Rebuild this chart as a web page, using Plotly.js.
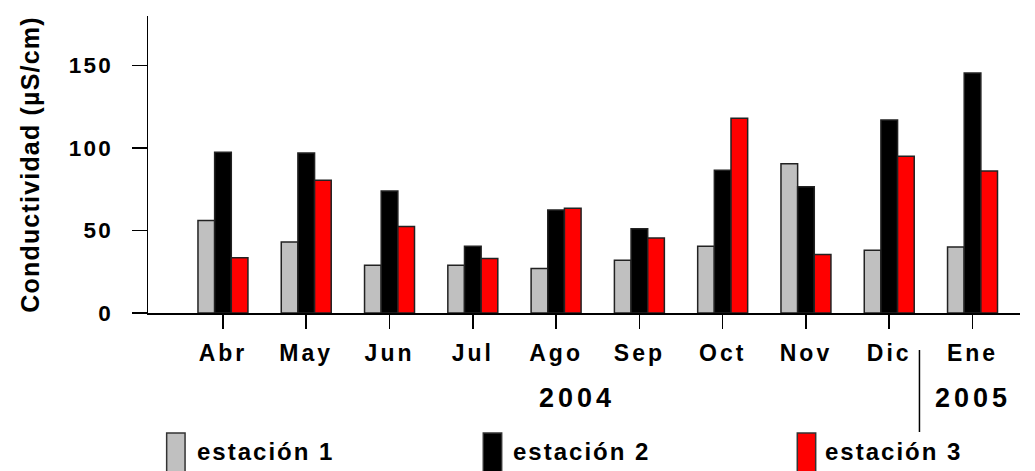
<!DOCTYPE html>
<html>
<head>
<meta charset="utf-8">
<script src="https://cdn.plot.ly/plotly-3.0.1.min.js"></script>
<style>
html,body{margin:0;padding:0;background:#fff;}
#chart{width:1035px;height:471px;}
.js-plotly-plot .xtick text{letter-spacing:3px;}
.js-plotly-plot .ytick text{letter-spacing:2.2px;}
.js-plotly-plot .ytitle{letter-spacing:1.2px;}
.js-plotly-plot .annotation-text{letter-spacing:2px;}
</style>
</head>
<body>
<div id="chart"></div>
<script>
const months = ["Abr","May","Jun","Jul","Ago","Sep","Oct","Nov","Dic","Ene"];
const seriesNames = ["estación 1","estación 2","estación 3"];
const estacion1 = [56, 43, 29, 29, 27, 32, 40.5, 90.5, 38, 40];
const estacion2 = [97.5, 97, 74, 40.5, 62.5, 51, 86.5, 76.5, 117, 145.5];
const estacion3 = [33.5, 80.5, 52.5, 33, 63.5, 45.5, 118, 35.5, 95, 86];
const seriesColors = ["#C0C0C0","#000000","#FF0000"];
const yTicks = [0, 50, 100, 150];
const yearLabels = ["2004","2005"];

const FONT = "Liberation Sans, Arial, sans-serif";
const values = [estacion1, estacion2, estacion3];

const traces = values.map((v, i) => ({
  type: "bar",
  x: months,
  y: v,
  name: seriesNames[i],
  marker: {color: seriesColors[i], line: {color: "#222", width: 1.5}},
  showlegend: false,
  hoverinfo: "x+y+name"
}));

const shapes = [];
const annotations = [];
// custom legend (tall swatches as in the original)
const legSwatchX = [0.0214, 0.3845, 0.7446];
const legTextX = [0.1347, 0.4974, 0.8555];
seriesNames.forEach((n, i) => {
  shapes.push({type:"rect", xref:"paper", yref:"paper",
    x0: legSwatchX[i], x1: legSwatchX[i] + 0.0211, y0: -0.404, y1: -0.56,
    fillcolor: seriesColors[i], line:{color:"#333", width:1.5}});
  annotations.push({xref:"paper", yref:"paper", x: legTextX[i], y: -0.468,
    xanchor:"center", yanchor:"middle", text: n, showarrow:false,
    font:{family:FONT, size:24, weight:700, color:"#000"}});
});
// year labels + separator
annotations.push({xref:"paper", yref:"paper", x:0.4925, y:-0.286, xanchor:"center", yanchor:"middle",
  text: yearLabels[0], showarrow:false, font:{family:FONT, size:27, weight:700, color:"#000"}});
annotations.push({xref:"paper", yref:"paper", x:0.946, y:-0.286, xanchor:"center", yanchor:"middle",
  text: yearLabels[1], showarrow:false, font:{family:FONT, size:27, weight:700, color:"#000"}});
shapes.push({type:"line", xref:"paper", yref:"paper", x0:0.8847, x1:0.8847, y0:-0.1246, y1:-0.4007,
  line:{color:"#000", width:1.5}});

const layout = {
  width: 1035, height: 471,
  margin: {l:148, r:15, t:16, b:158, pad:0},
  paper_bgcolor:"#fff", plot_bgcolor:"#fff",
  barmode:"group", bargap:0.4, bargroupgap:0,
  font:{family:FONT, size:22, weight:700, color:"#000"},
  xaxis:{
    type:"category", range:[-0.9, 9.57],
    showline:true, linecolor:"#000", linewidth:1.5,
    ticks:"outside", ticklen:14, tickwidth:1.5, tickcolor:"#000",
    tickfont:{family:FONT, size:23, weight:700, color:"#000"},
    ticklabelstandoff:5,
    showgrid:false, zeroline:false, fixedrange:true
  },
  yaxis:{
    range:[0,180], tickvals:yTicks, ticktext:yTicks.map(String),
    showline:true, linecolor:"#000", linewidth:1.5,
    ticks:"outside", ticklen:15, tickwidth:1.5, tickcolor:"#000",
    tickfont:{family:FONT, size:22.5, weight:700, color:"#000"},
    ticklabelstandoff:14,
    showgrid:false, zeroline:false, fixedrange:true,
    title:{text:"Conductividad (µS/cm)", font:{family:FONT, size:25, weight:700, color:"#000"}, standoff:28}
  },
  shapes: shapes,
  annotations: annotations
};

Plotly.newPlot("chart", traces, layout, {displayModeBar:false, staticPlot:true}).then(gd => {
  gd.querySelectorAll(".annotation-text").forEach(t => {
    if (yearLabels.includes(t.textContent)) t.style.letterSpacing = "4px";
  });
});
</script>
</body>
</html>
